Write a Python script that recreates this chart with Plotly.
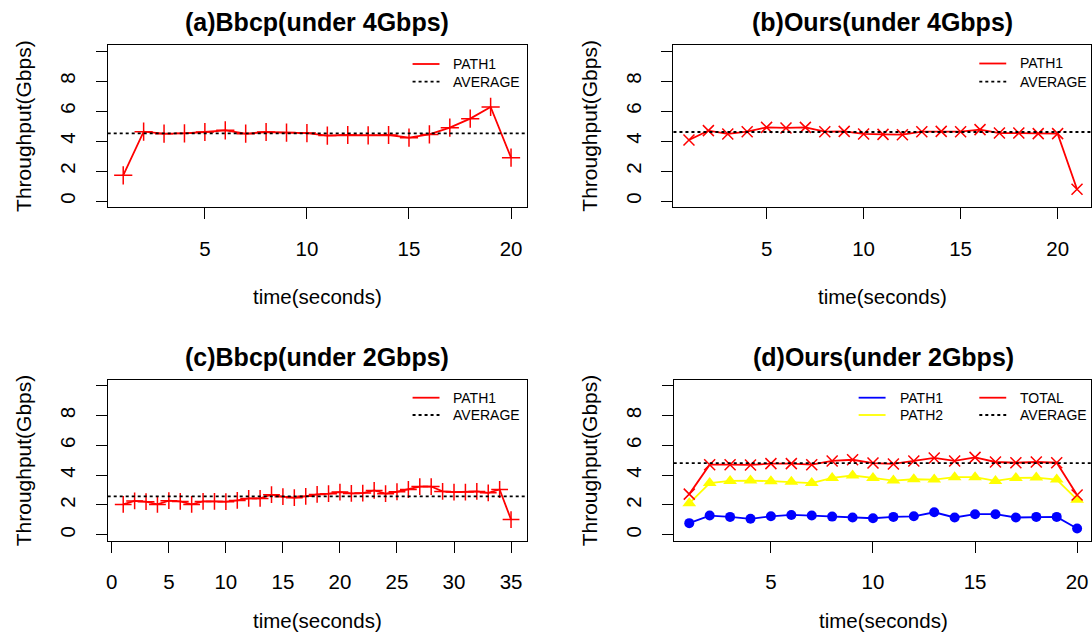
import plotly.graph_objects as go

W, H = 1092, 638
FONT = "Liberation Sans, Arial, sans-serif"

# ---------------- data ----------------
t_a = list(range(1, 21))
path1_a = [1.71, 4.62, 4.49, 4.51, 4.60, 4.71, 4.49, 4.60, 4.56, 4.53,
           4.36, 4.40, 4.38, 4.40, 4.22, 4.44, 4.89, 5.49, 6.27, 2.89]
avg_a = 4.51

t_b = list(range(1, 22))
path1_b = [4.07, 4.69, 4.47, 4.62, 4.91, 4.87, 4.91, 4.62, 4.64, 4.47, 4.44,
           4.42, 4.62, 4.64, 4.62, 4.76, 4.53, 4.53, 4.49, 4.49, 0.78]
avg_b = 4.60

t_c = list(range(1, 36))
path1_c = [2.04, 2.27, 2.22, 2.04, 2.29, 2.24, 2.04, 2.24, 2.24, 2.22,
           2.31, 2.44, 2.44, 2.69, 2.56, 2.49, 2.58, 2.71, 2.76, 2.87,
           2.78, 2.80, 2.98, 2.76, 2.89, 3.04, 3.24, 3.24, 2.91, 2.87,
           2.87, 2.91, 2.82, 3.04, 1.02]
avg_c = 2.58

t_d = list(range(1, 21))
path1_d = [0.78, 1.29, 1.20, 1.07, 1.24, 1.33, 1.29, 1.22, 1.16, 1.11,
           1.20, 1.24, 1.51, 1.16, 1.38, 1.38, 1.16, 1.20, 1.20, 0.42]
path2_d = [2.11, 3.47, 3.62, 3.64, 3.60, 3.56, 3.47, 3.82, 3.98, 3.82,
           3.64, 3.73, 3.71, 3.87, 3.87, 3.62, 3.82, 3.84, 3.71, 2.36]
total_d = [2.73, 4.71, 4.71, 4.69, 4.78, 4.78, 4.71, 4.96, 5.04, 4.82,
           4.76, 4.96, 5.16, 4.96, 5.20, 4.89, 4.84, 4.89, 4.84, 2.67]
avg_d = 4.82

titles = ["(a)Bbcp(under 4Gbps)", "(b)Ours(under 4Gbps)",
          "(c)Bbcp(under 2Gbps)", "(d)Ours(under 2Gbps)"]
y_tickvals = [0, 2, 4, 6, 8, 10]
y_ticktext = ["0", "2", "4", "6", "8", ""]
xlabel = "time(seconds)"
ylabel = "Throughput(Gbps)"

# ---------------- layout helpers ----------------
def px(x):
    return x / W

def py(y):
    return 1 - y / H

# panel boxes in pixels: left, right, top, bottom
boxes = {
    1: (106, 526, 45, 207),
    2: (673.3, 1092, 45, 207),
    3: (106, 526, 380, 540.7),
    4: (673.6, 1092, 380, 540.7),
}
xranges = {1: [0.24, 20.76], 2: [0.2, 21.72], 3: [-0.36, 36.36], 4: [0.24, 20.68]}
xticks = {1: [5, 10, 15, 20], 2: [5, 10, 15, 20], 3: [0, 5, 10, 15, 20, 25, 30, 35], 4: [5, 10, 15, 20]}

fig = go.Figure()

axis_common = dict(showline=True, mirror=True, linecolor="black", linewidth=1.3,
                   ticks="outside", ticklen=11, tickwidth=1.3, tickcolor="black",
                   showgrid=False, zeroline=False,
                   tickfont=dict(family=FONT, size=20.5, color="black"))

layout = dict(width=W, height=H, margin=dict(l=0, r=0, t=0, b=0),
              paper_bgcolor="white", plot_bgcolor="white", showlegend=False)

for i, (l, r, t, b) in boxes.items():
    xn = "xaxis" if i == 1 else f"xaxis{i}"
    yn = "yaxis" if i == 1 else f"yaxis{i}"
    layout[xn] = dict(domain=[px(l), px(r)], range=xranges[i], tickvals=xticks[i],
                      anchor=f"y{'' if i == 1 else i}", ticklabelstandoff=12, **axis_common)
    layout[yn] = dict(domain=[py(b), py(t)], range=[-0.4, 10.4], tickvals=y_tickvals,
                      ticktext=y_ticktext, tickangle=-90,
                      anchor=f"x{'' if i == 1 else i}", ticklabelstandoff=12, **axis_common)

fig.update_layout(**layout)

RED, BLUE, YEL = "#FF0000", "#0000FF", "#FFFF00"

def add_line(xs, ys, color, symbol, size, axis, mline=1.5, filled=False):
    xa = "x" if axis == 1 else f"x{axis}"
    ya = "y" if axis == 1 else f"y{axis}"
    if filled:
        marker = dict(symbol=symbol, size=size, color=color, line=dict(width=0))
    else:
        marker = dict(symbol=symbol, size=size, color=color, line=dict(width=mline, color=color))
    fig.add_trace(go.Scatter(x=xs, y=ys, mode="lines+markers", xaxis=xa, yaxis=ya,
                             line=dict(color=color, width=1.8), marker=marker,
                             hoverinfo="x+y"))

add_line(t_a, path1_a, RED, "cross-thin", 13, 1)
add_line(t_b, path1_b, RED, "x-thin", 11, 2)
add_line(t_c, path1_c, RED, "cross-thin", 12, 3)
add_line(t_d, path1_d, BLUE, "circle", 10, 4, filled=True)
add_line(t_d, path2_d, YEL, "triangle-up", 12, 4, filled=True)
add_line(t_d, total_d, RED, "x-thin", 11, 4)

# average lines
for i, avg in zip([1, 2, 3, 4], [avg_a, avg_b, avg_c, avg_d]):
    xa = "x" if i == 1 else f"x{i}"
    ya = "y" if i == 1 else f"y{i}"
    fig.add_shape(type="line", xref=f"{xa} domain", yref=ya, x0=0, x1=1, y0=avg, y1=avg,
                  line=dict(color="black", width=1.8, dash="dot"))

ann = []
# titles & axis labels
for i, (l, r, t, b) in boxes.items():
    cx = (l + r) / 2 if i in (1, 3) else (l + 1093.5) / 2
    ann.append(dict(text=f"<b>{titles[i-1]}</b>", x=px(cx), y=py(t - 23), xref="paper", yref="paper",
                    showarrow=False, xanchor="center", yanchor="middle",
                    font=dict(family=FONT, size=25, color="black")))
    xl_y = b + 89 if i in (1, 2) else b + 80
    ann.append(dict(text=xlabel, x=px(cx), y=py(xl_y), xref="paper", yref="paper",
                    showarrow=False, xanchor="center", yanchor="middle",
                    font=dict(family=FONT, size=20.5, color="black")))
    ann.append(dict(text=ylabel, x=px(l - 85), y=py((t + b) / 2), xref="paper", yref="paper",
                    showarrow=False, xanchor="center", yanchor="middle", textangle=-90,
                    font=dict(family=FONT, size=21, color="black")))

# legends
def legend_entry(x0, y, color, dash, text):
    fig.add_shape(type="line", xref="paper", yref="paper", x0=px(x0), x1=px(x0 + 27),
                  y0=py(y), y1=py(y), line=dict(color=color, width=1.8, dash=dash))
    ann.append(dict(text=text, x=px(x0 + 39), y=py(y), xref="paper", yref="paper",
                    showarrow=False, xanchor="left", yanchor="middle",
                    font=dict(family=FONT, size=14, color="black")))

legend_entry(411.7, 64, RED, "solid", "PATH1")
legend_entry(411.7, 81.7, "black", "dot", "AVERAGE")
legend_entry(980, 63.5, RED, "solid", "PATH1")
legend_entry(980, 81.7, "black", "dot", "AVERAGE")
legend_entry(411.7, 397.7, RED, "solid", "PATH1")
legend_entry(411.7, 415, "black", "dot", "AVERAGE")
legend_entry(859, 397.7, BLUE, "solid", "PATH1")
legend_entry(859, 415, YEL, "solid", "PATH2")
legend_entry(980, 397.7, RED, "solid", "TOTAL")
legend_entry(980, 415, "black", "dot", "AVERAGE")

fig.update_layout(annotations=ann)
fig.write_html("out.html", config={"displayModeBar": False},
               post_script="document.body.style.margin='0';document.body.style.overflow='hidden';")
